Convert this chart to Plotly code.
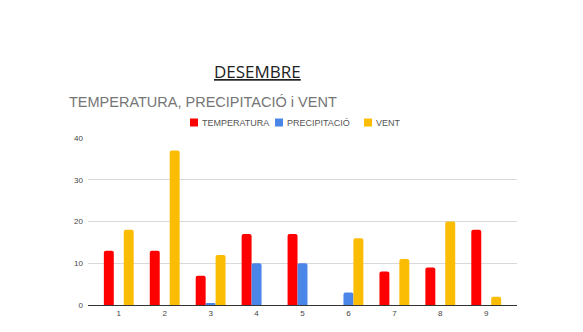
import plotly.graph_objects as go

days = ["1", "2", "3", "4", "5", "6", "7", "8", "9"]
temperatura = [13, 13, 7, 17, 17, 0, 8, 9, 18]
precipitacio = [0, 0, 0.4, 10, 10, 3, 0, 0, 0]
vent = [18, 37, 12, 0, 0, 16, 11, 20, 2]
y_ticks = [0, 10, 20, 30, 40]

series = [("TEMPERATURA", temperatura, "#ff0000"),
          ("PRECIPITACIÓ", precipitacio, "#4a86e8"),
          ("VENT", vent, "#fbbc04")]

W, H = 583, 332
L, R, T, B = 88, 66, 138, 27
pw, ph = W - L - R, H - T - B

def px(x):
    return (x - L) / pw

def py(y):
    return (H - B - y) / ph

fig = go.Figure()
for name, vals, col in series:
    fig.add_bar(x=days, y=vals, name=name, marker_color=col, showlegend=False)
fig.update_traces(marker_line_width=0, marker_cornerradius=2)

fig.update_layout(
    width=W, height=H,
    margin=dict(l=L, r=R, t=T, b=B),
    paper_bgcolor="white", plot_bgcolor="white",
    barmode="group", bargap=0.35, bargroupgap=0,
    font=dict(family="Liberation Sans, Arial", size=8, color="#444"),
    showlegend=False,
    xaxis=dict(showgrid=False, showline=True, linecolor="#333", linewidth=1,
               range=[-0.67, 8.67],
               tickfont=dict(size=8, color="#444"), ticks=""),
    yaxis=dict(range=[0, 40], tickvals=y_ticks, showgrid=True, gridcolor="#d9d9d9",
               zeroline=False, showline=False, tickfont=dict(size=8, color="#444"),
               ticks="", ticklabelstandoff=4),
)

# custom legend
legend_x = [190, 275, 364]
for (name, vals, col), lx in zip(series, legend_x):
    fig.add_shape(type="rect", xref="paper", yref="paper",
                  x0=px(lx), x1=px(lx + 8), y0=py(126.5), y1=py(118.5),
                  fillcolor=col, line_width=0)
    fig.add_annotation(text=name, xref="paper", yref="paper", x=px(lx + 10), y=py(122.5),
                       showarrow=False, xanchor="left", yanchor="middle",
                       font=dict(family="Liberation Sans, Arial", size=9, color="#555"))

fig.add_annotation(text="<u>DESEMBRE</u>", xref="paper", yref="paper", x=px(257), y=py(71),
                   showarrow=False, font=dict(family="Open Sans", size=17, color="#222"),
                   xanchor="center", yanchor="middle")
fig.add_annotation(text="TEMPERATURA, PRECIPITACIÓ i VENT", xref="paper", yref="paper",
                   x=px(69), y=py(102), showarrow=False,
                   font=dict(family="Liberation Sans, Arial", size=14.5, color="#757575"),
                   xanchor="left", yanchor="middle", xshift=-2)

fig.write_html("out.html")
